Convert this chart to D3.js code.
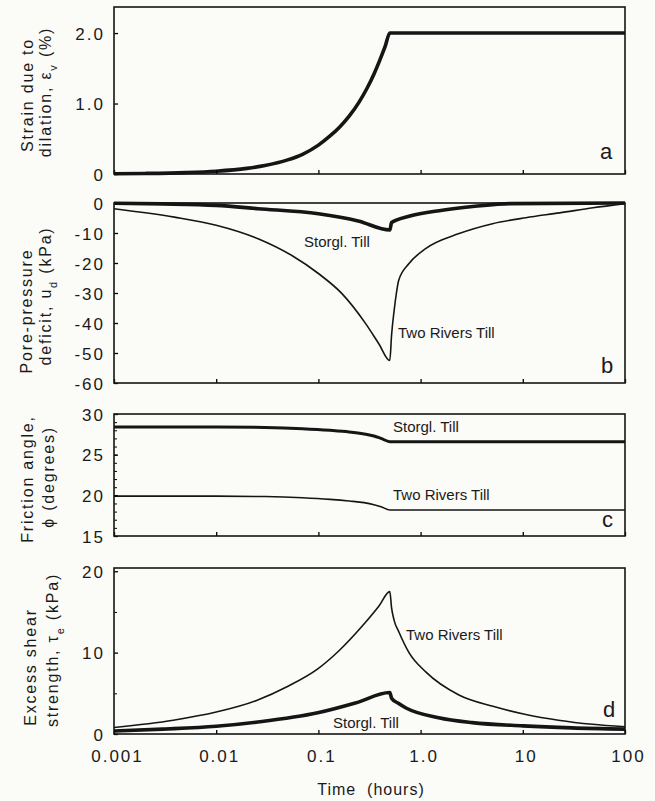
<!DOCTYPE html>
<html lang="en">
<head>
    <meta charset="UTF-8">
    <script src="https://d3js.org/d3.v7.min.js"></script>
    <title>Dilation, pore pressure, friction and strength vs time</title>
    <style>
        body { margin: 0; background-color: #fbfbf8; }
        svg { display: block; font-family: "Liberation Sans", Arial, sans-serif; }
        .tick text { font-size: 17px; letter-spacing: 2px; fill: #1a1a1a; }
        .title { font-size: 16px; letter-spacing: 1.8px; fill: #1a1a1a; }
        .lbl { font-size: 15px; fill: #1a1a1a; }
        .letter { font-size: 22px; fill: #1a1a1a; }
    </style>
</head>
<body>
<svg width="655" height="801"></svg>
<script>
    // values (time in hours)
    const xTicks = [0.001, 0.01, 0.1, 1, 10, 100];
    const xTickLabels = ["0.001", "0.01", "0.1", "1.0", "10", "100"];

    // a: strain due to dilation (%)
    const timeA   = [0.001, 0.002, 0.005, 0.01, 0.02, 0.03, 0.05, 0.07, 0.1, 0.13, 0.16, 0.2, 0.25, 0.3, 0.35, 0.4, 0.45, 0.5, 100];
    const strainA = [0.004, 0.008, 0.02, 0.04, 0.08, 0.12, 0.2, 0.28, 0.41, 0.54, 0.66, 0.82, 1.02, 1.22, 1.42, 1.62, 1.81, 2.0, 2.0];

    // b: pore-pressure deficit (kPa)
    const timeB_sg = [0.001, 0.003, 0.01, 0.0257, 0.1, 0.245, 0.5, 0.52, 0.77, 1.63, 3.4, 7.5, 100];
    const poreB_sg = [-0.1, -0.3, -0.8, -1.9, -3.6, -6.0, -9.0, -6.5, -4.4, -2.4, -1.1, -0.2, 0];
    const timeB_tr = [0.001, 0.0039, 0.01, 0.0257, 0.055, 0.1, 0.17, 0.29, 0.39, 0.5, 0.52, 0.55, 0.58, 0.61, 0.77, 1.12, 2.38, 5.06, 10.7, 22.9, 48.6, 100];
    const poreB_tr = [-1.9, -4.7, -7.4, -11.9, -17.5, -23.5, -30.2, -40.2, -46.9, -52.5, -44, -36, -30, -25.8, -20.2, -15.2, -10.2, -6.9, -4.9, -3.3, -1.6, -0.2];

    // c: friction angle (degrees)
    const timeC    = [0.001, 0.01, 0.03, 0.07, 0.13, 0.2, 0.28, 0.35, 0.41, 0.5, 100];
    const phiC_sg  = [28.4, 28.4, 28.35, 28.2, 28.0, 27.8, 27.55, 27.3, 27.0, 26.6, 26.6];
    const phiC_tr  = [19.9, 19.9, 19.85, 19.7, 19.5, 19.3, 19.1, 18.85, 18.6, 18.2, 18.2];

    // d: excess shear strength (kPa)
    const timeD_tr = [0.001, 0.0038, 0.01, 0.0245, 0.051, 0.0986, 0.158, 0.27, 0.39, 0.5, 0.52, 0.55, 0.615, 0.77, 1.13, 2.37, 5.1, 10.7, 22.3, 48, 100];
    const tauD_tr  = [0.8, 1.7, 2.7, 4.1, 5.9, 8.0, 10.2, 13.3, 15.7, 17.5, 15.5, 14.0, 12.5, 10.0, 7.6, 4.8, 3.4, 2.4, 1.7, 1.2, 0.9];
    const timeD_sg = [0.001, 0.003, 0.01, 0.0245, 0.0986, 0.23, 0.5, 0.52, 0.6, 0.72, 1.5, 3.2, 10, 30, 100];
    const tauD_sg  = [0.37, 0.6, 0.95, 1.45, 2.6, 3.8, 5.1, 4.4, 3.8, 3.2, 2.0, 1.4, 1.0, 0.75, 0.6];

    const svg = d3.select("svg");
    svg.append("rect").attr("width", 655).attr("height", 801).attr("fill", "#fbfbf8");

    const x = d3.scaleLog().domain([0.001, 100]).range([114, 625]);

    const panels = [
        { key: "a", top: 7, bottom: 174, domain: [0, 2.37], ticks: [0, 1, 2], labels: ["0", "1.0", "2.0"], minor: [],
          titles: [["Strain due to"], ["dilation, ε", ["v"], " (%)"]], tpos: [[27, 95], [45, 92]],
          letter: [600, 159],
          series: [{ t: timeA, v: strainA, w: 3.6 }], notes: [] },
        { key: "b", top: 203, bottom: 383, domain: [-60, 0], ticks: [0, -10, -20, -30, -40, -50, -60],
          labels: ["0", "-10", "-20", "-30", "-40", "-50", "-60"], minor: [],
          titles: [["Pore-pressure"], ["deficit, u", ["d"], " (kPa)"]], tpos: [[26, 311], [45, 296]],
          letter: [601, 373],
          series: [{ t: timeB_tr, v: poreB_tr, w: 1.6 }, { t: timeB_sg, v: poreB_sg, w: 3.6 }],
          notes: [["Storgl. Till", 304, 247], ["Two Rivers Till", 398, 338]] },
        { key: "c", top: 414, bottom: 536, domain: [15, 30], ticks: [15, 20, 25, 30], labels: ["15", "20", "25", "30"],
          minor: d3.range(16, 30),
          titles: [["Friction angle,"], ["ϕ (degrees)"]], tpos: [[27, 479], [48, 477]],
          letter: [602, 527],
          series: [{ t: timeC, v: phiC_sg, w: 3.0 }, { t: timeC, v: phiC_tr, w: 1.6 }],
          notes: [["Storgl. Till", 393, 432], ["Two Rivers Till", 393, 500]] },
        { key: "d", top: 568, bottom: 734, domain: [0, 20.4], ticks: [0, 10, 20], labels: ["0", "10", "20"], minor: [5, 15],
          titles: [["Excess shear"], ["strength, τ", ["e"], " (kPa)"]], tpos: [[30, 667], [52, 650]],
          letter: [603, 717],
          series: [{ t: timeD_tr, v: tauD_tr, w: 1.6 }, { t: timeD_sg, v: tauD_sg, w: 3.6 }],
          notes: [["Two Rivers Till", 406, 640], ["Storgl. Till", 333, 728]] }
    ];

    panels.forEach((p, i) => {
        const y = d3.scaleLinear().domain(p.domain).range([p.bottom, p.top]);
        const g = svg.append("g").attr("class", "panel-" + p.key);

        // curves
        const line = d3.line().x(d => x(d[0])).y(d => y(d[1])).curve(d3.curveMonotoneX);
        p.series.forEach(s => {
            g.append("path")
                .datum(s.t.map((t, k) => [t, s.v[k]]))
                .attr("d", line)
                .attr("fill", "none")
                .attr("stroke", "#151515")
                .attr("stroke-width", s.w)
                .attr("stroke-linejoin", "round");
        });

        // left axis, ticks pointing in
        const yAx = g.append("g")
            .attr("transform", `translate(${x.range()[0]},0)`)
            .call(d3.axisLeft(y).tickValues(p.ticks).tickSize(-4).tickPadding(9)
                .tickFormat((d, k) => p.labels[k]));
        yAx.select(".domain").remove();
        yAx.selectAll(".tick text").attr("dy", "0.36em");

        if (p.minor.length) {
            const mAx = g.append("g")
                .attr("transform", `translate(${x.range()[0]},0)`)
                .call(d3.axisLeft(y).tickValues(p.minor).tickSize(-3).tickFormat(""));
            mAx.select(".domain").remove();
        }

        // bottom axis
        const last = i === panels.length - 1;
        const xAx = g.append("g")
            .attr("transform", `translate(0,${p.bottom})`)
            .call(d3.axisBottom(x).tickValues(xTicks).tickSize(-4).tickPadding(16)
                .tickFormat((d, k) => last ? xTickLabels[k] : ""));
        xAx.select(".domain").remove();
        xAx.selectAll(".tick line").attr("stroke-width", 1.3);
        yAx.selectAll(".tick line").attr("stroke-width", 1.3);
        xAx.selectAll(".tick text").attr("dx", "3px");

        // frame
        g.append("rect")
            .attr("x", x.range()[0]).attr("y", p.top)
            .attr("width", x.range()[1] - x.range()[0]).attr("height", p.bottom - p.top)
            .attr("fill", "none").attr("stroke", "#151515").attr("stroke-width", 1.6);

        // y titles, two rotated lines
        p.titles.forEach((parts, k) => {
            const t = g.append("text").attr("class", "title")
                .attr("text-anchor", "middle")
                .attr("transform", `translate(${p.tpos[k][0]},${p.tpos[k][1]}) rotate(-90)`)
                .attr("dy", "0.36em");
            parts.forEach(part => {
                if (Array.isArray(part)) {
                    t.append("tspan").attr("baseline-shift", "sub").attr("font-size", "11px").text(part[0]);
                } else {
                    t.append("tspan").text(part);
                }
            });
        });

        p.notes.forEach(n => {
            g.append("text").attr("class", "lbl").attr("x", n[1]).attr("y", n[2]).text(n[0]);
        });

        g.append("text").attr("class", "letter")
            .attr("x", p.letter[0]).attr("y", p.letter[1]).text(p.key);
    });

    svg.append("text").attr("class", "title")
        .attr("x", 371).attr("y", 795).attr("text-anchor", "middle")
        .style("letter-spacing", "1px")
        .attr("xml:space", "preserve")
        .text("Time  (hours)");
</script>
</body>
</html>
